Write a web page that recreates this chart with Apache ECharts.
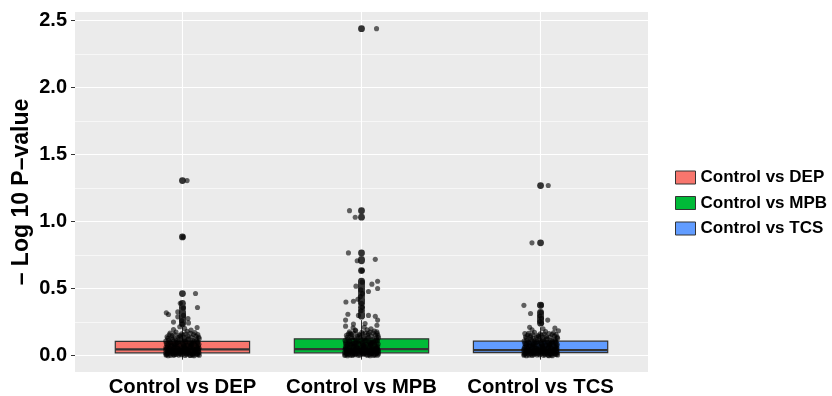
<!DOCTYPE html>
<html><head><meta charset="utf-8">
<script src="https://cdn.jsdelivr.net/npm/echarts@6/dist/echarts.min.js"></script>
<style>html,body{margin:0;padding:0;background:#fff}#c{width:832px;height:396px}</style>
</head><body><div id="c"></div>
<script>
const categories = ['Control vs DEP', 'Control vs MPB', 'Control vs TCS'];
const boxColors = ['#F8766D', '#00BA38', '#619CFF'];
const yTicks = [0, 0.5, 1, 1.5, 2, 2.5];
const yMinorTicks = [0.25, 0.75, 1.25, 1.75, 2.25];
const yAxisTitle = '\u2013 Log 10 P\u2013value';

// box statistics: [Q1, median, Q3]
const boxDEP = [0.021, 0.046, 0.106];
const boxMPB = [0.021, 0.048, 0.125];
const boxTCS = [0.022, 0.041, 0.108];

// jittered points: [horizontal jitter (category units), -log10 p]
const pointsDEP = [
 [0.026,1.305],[0.003,0.885],[0.073,0.463],[-0.012,0.39],[0.084,0.359],[0.004,0.355],[-0.026,0.326],[-0.09,0.319],
 [-0.078,0.307],[0.006,0.3],[-0.026,0.289],[0.031,0.277],[-0.004,0.262],[0.034,0.244],[-0.05,0.25],[0.0,0.238],
 [-0.092,0.004],[-0.071,0.012],[-0.048,0.002],[-0.027,0.018],[-0.006,0.007],[0.015,0.001],[0.036,0.014],[0.058,0.005],[0.079,0.011],[0.094,0.003],
 [-0.085,0.026],[-0.062,0.033],[-0.041,0.022],[-0.019,0.038],[0.003,0.027],[0.024,0.035],[0.046,0.024],[0.067,0.031],[0.088,0.028],
 [-0.094,0.045],[-0.074,0.052],[-0.053,0.041],[-0.031,0.058],[-0.011,0.047],[0.011,0.055],[0.032,0.044],[0.054,0.061],[0.075,0.049],[0.093,0.056],
 [-0.083,0.068],[-0.061,0.075],[-0.039,0.064],[-0.016,0.079],[0.006,0.071],[0.027,0.083],[0.049,0.069],[0.071,0.078],[0.089,0.072],
 [-0.09,0.091],[-0.067,0.098],[-0.044,0.087],[-0.022,0.104],[0.0,0.094],[0.021,0.101],[0.042,0.089],[0.064,0.107],[0.085,0.096],
 [-0.078,0.116],[-0.055,0.123],[-0.033,0.112],[-0.009,0.128],[0.013,0.119],[0.035,0.131],[0.057,0.115],[0.08,0.124],
 [-0.086,0.141],[-0.058,0.148],[-0.025,0.137],[0.004,0.153],[0.03,0.144],[0.062,0.158],[0.091,0.139],
 [-0.069,0.168],[-0.036,0.176],[-0.004,0.163],[0.026,0.181],[0.07,0.172],
 [-0.05,0.195],[0.012,0.203],[0.048,0.19],[-0.015,0.215],[0.082,0.21],
 [-0.08,0.0],[-0.035,0.009],[0.02,0.016],[0.065,0.0],[-0.058,0.019],[0.042,0.003],[-0.004,0.03],[0.075,0.04],
 [-0.07,0.037],[0.009,0.062],[-0.046,0.082],[0.052,0.085],
 [-0.089,0.008],[-0.066,0.002],[-0.043,0.011],[-0.021,0.004],[0.001,0.013],[0.023,0.008],[0.044,0.001],[0.064,0.015],[0.086,0.007],
 [-0.094,0.019],[-0.077,0.023],[-0.055,0.029],[-0.033,0.025],[-0.012,0.021],[0.01,0.031],[0.031,0.023],[0.052,0.018],[0.073,0.026],[0.093,0.021],
 [-0.081,0.039],[-0.059,0.046],[-0.037,0.036],[-0.015,0.043],[0.007,0.038],[0.029,0.048],[0.05,0.037],[0.071,0.045],[0.09,0.041],
 [-0.092,0.062],[-0.07,0.058],[-0.047,0.066],[-0.025,0.053],[-0.003,0.061],[0.019,0.067],[0.04,0.057],[0.061,0.053],[0.083,0.063],
 [-0.086,0.081],[-0.063,0.086],[-0.041,0.077],[-0.018,0.09],[0.004,0.083],[0.026,0.074],[0.047,0.079],[0.068,0.091],[0.092,0.084],
 [-0.093,0.108],[-0.071,0.103],[-0.049,0.109],[-0.027,0.097],[-0.005,0.111],[0.017,0.106],[0.038,0.099],[0.06,0.095],[0.078,0.109],
 [-0.082,0.13],[-0.06,0.135],[-0.038,0.126],[-0.014,0.142],[0.009,0.134],[0.031,0.122],[0.053,0.137],[0.076,0.145],[0.094,0.128],
 [-0.074,0.155],[-0.045,0.159],[-0.017,0.151],[0.019,0.162],[0.045,0.166],[0.086,0.158],
 [-0.084,0.014],[-0.052,0.01],[-0.016,0.016],[0.018,0.021],[0.055,0.011],[0.083,0.017],[-0.072,0.032],[-0.038,0.03],[-0.001,0.04],
 [0.035,0.029],[0.07,0.036],[-0.088,0.051],[-0.05,0.049],[-0.014,0.054],[0.022,0.05],[0.058,0.047],[0.088,0.05],[-0.066,0.07],
 [-0.029,0.067],[0.011,0.074],[0.045,0.063],[0.079,0.07],[-0.077,0.088],[-0.036,0.095],[0.008,0.102],[0.051,0.1],[0.087,0.104]
];
const pointsMPB = [
 [0.084,2.438],[-0.067,1.081],[-0.035,1.032],[-0.073,0.766],[-0.024,0.707],[0.077,0.718],[0.003,0.634],[0.09,0.555],
 [0.004,0.548],[0.058,0.533],[-0.031,0.518],[0.09,0.5],[-0.004,0.49],[0.039,0.478],[0.006,0.462],[-0.006,0.44],
 [-0.02,0.42],[-0.045,0.406],[-0.087,0.4],[0.0,0.39],[0.004,0.36],[-0.003,0.335],[-0.076,0.309],[-0.017,0.3],
 [0.039,0.3],[0.077,0.294],[0.09,0.265],[-0.089,0.265],[-0.089,0.22],[0.086,0.227],[-0.045,0.235],[0.02,0.24],
 [0.086,0.177],[-0.035,0.19],[0.039,0.165],[-0.063,0.165],
 [-0.094,0.002],[-0.073,0.009],[-0.051,0.001],[-0.03,0.014],[-0.008,0.005],[0.013,0.011],[0.035,0.003],[0.056,0.016],[0.077,0.006],[0.095,0.012],
 [-0.087,0.024],[-0.065,0.031],[-0.043,0.027],[-0.021,0.036],[0.001,0.022],[0.022,0.039],[0.044,0.029],[0.066,0.034],[0.087,0.021],
 [-0.092,0.047],[-0.071,0.055],[-0.049,0.043],[-0.028,0.061],[-0.006,0.05],[0.016,0.058],[0.037,0.046],[0.059,0.064],[0.081,0.052],[0.094,0.041],
 [-0.081,0.072],[-0.059,0.08],[-0.037,0.069],[-0.014,0.084],[0.008,0.076],[0.029,0.088],[0.051,0.073],[0.073,0.082],[0.09,0.069],
 [-0.089,0.097],[-0.066,0.105],[-0.042,0.093],[-0.019,0.109],[0.003,0.099],[0.025,0.112],[0.046,0.095],[0.068,0.104],[0.088,0.114],
 [-0.076,0.124],[-0.053,0.131],[-0.03,0.119],[-0.007,0.136],[0.016,0.127],[0.039,0.139],[0.061,0.122],[0.083,0.133],
 [-0.084,0.151],[-0.056,0.158],[-0.022,0.146],[0.007,0.163],[0.034,0.154],[0.065,0.168],[0.092,0.149],
 [-0.067,0.178],[-0.032,0.186],[0.002,0.174],[0.031,0.193],[0.072,0.183],
 [-0.047,0.207],[0.015,0.212],[0.053,0.2],
 [-0.078,0.0],[-0.033,0.007],[0.025,0.019],[0.068,0.001],[-0.055,0.018],[0.045,0.008],[-0.002,0.033],[0.072,0.044],
 [-0.068,0.04],[0.011,0.066],[-0.048,0.088],[0.055,0.09],
 [-0.09,0.006],[-0.062,0.004],[-0.04,0.012],[-0.017,0.002],[0.006,0.014],[0.027,0.006],[0.048,0.0],[0.07,0.011],[0.089,0.003],
 [-0.095,0.021],[-0.079,0.017],[-0.058,0.028],[-0.035,0.02],[-0.013,0.027],[0.011,0.018],[0.033,0.025],[0.054,0.021],[0.075,0.029],[0.094,0.026],
 [-0.084,0.041],[-0.062,0.037],[-0.039,0.045],[-0.018,0.039],[0.005,0.043],[0.027,0.035],[0.049,0.04],[0.07,0.048],[0.09,0.036],
 [-0.09,0.064],[-0.068,0.06],[-0.045,0.067],[-0.023,0.057],[-0.001,0.063],[0.021,0.069],[0.042,0.058],[0.064,0.055],[0.085,0.061],
 [-0.087,0.084],[-0.064,0.089],[-0.04,0.08],[-0.017,0.093],[0.005,0.086],[0.028,0.078],[0.05,0.083],[0.071,0.094],[0.093,0.087],
 [-0.092,0.112],[-0.07,0.107],[-0.047,0.115],[-0.025,0.101],[-0.003,0.117],[0.019,0.11],[0.041,0.103],[0.062,0.099],[0.08,0.113],
 [-0.08,0.137],[-0.058,0.142],[-0.036,0.133],[-0.012,0.149],[0.011,0.141],[0.033,0.128],[0.055,0.144],[0.078,0.152],[0.095,0.135],
 [-0.073,0.162],[-0.043,0.167],[-0.015,0.158],[0.021,0.171],[0.047,0.176],[0.088,0.165],
 [-0.083,0.013],[-0.05,0.009],[-0.015,0.017],[0.019,0.02],[0.056,0.012],[0.084,0.016],[-0.071,0.033],[-0.037,0.031],[0.0,0.041],
 [0.036,0.03],[0.071,0.037],[-0.087,0.052],[-0.049,0.05],[-0.013,0.055],[0.023,0.051],[0.059,0.048],[0.089,0.051],[-0.065,0.071],
 [-0.028,0.068],[0.012,0.075],[0.046,0.064],[0.08,0.071],[-0.076,0.09],[-0.035,0.096],[0.009,0.103],[0.052,0.101],[0.088,0.106]
];
const pointsTCS = [
 [0.043,1.268],[-0.048,0.841],[-0.093,0.375],[0.003,0.377],[-0.056,0.314],[0.002,0.322],[-0.004,0.295],[0.005,0.278],
 [0.04,0.265],[-0.003,0.255],[0.006,0.242],[-0.061,0.212],[0.08,0.205],[0.1,0.185],[-0.088,0.165],
 [-0.093,0.003],[-0.069,0.013],[-0.046,0.001],[-0.025,0.017],[-0.004,0.006],[0.017,0.002],[0.038,0.013],[0.06,0.004],[0.081,0.01],[0.095,0.005],
 [-0.083,0.027],[-0.06,0.034],[-0.039,0.023],[-0.017,0.037],[0.005,0.026],[0.026,0.034],[0.048,0.025],[0.069,0.03],[0.089,0.029],
 [-0.095,0.044],[-0.072,0.053],[-0.051,0.042],[-0.029,0.057],[-0.009,0.046],[0.013,0.054],[0.034,0.043],[0.056,0.06],[0.077,0.048],[0.092,0.057],
 [-0.081,0.067],[-0.059,0.074],[-0.037,0.063],[-0.014,0.078],[0.008,0.07],[0.029,0.082],[0.051,0.068],[0.073,0.077],[0.091,0.073],
 [-0.088,0.09],[-0.065,0.097],[-0.042,0.086],[-0.02,0.103],[0.002,0.093],[0.023,0.1],[0.044,0.088],[0.066,0.106],[0.087,0.095],
 [-0.076,0.115],[-0.053,0.122],[-0.031,0.111],[-0.007,0.127],[0.015,0.118],[0.037,0.13],[0.059,0.114],[0.082,0.123],
 [-0.084,0.14],[-0.056,0.147],[-0.023,0.136],[0.006,0.152],[0.032,0.143],[0.064,0.157],[0.093,0.138],
 [-0.067,0.167],[-0.034,0.174],[-0.002,0.162],[0.028,0.179],[0.072,0.171],
 [-0.048,0.193],[0.014,0.2],
 [-0.079,0.0],[-0.036,0.01],[0.021,0.015],[0.066,0.0],[-0.057,0.02],[0.043,0.002],[-0.003,0.031],[0.076,0.039],
 [-0.071,0.036],[0.01,0.061],[-0.045,0.081],[0.053,0.084],
 [-0.091,0.009],[-0.064,0.003],[-0.041,0.012],[-0.019,0.005],[0.003,0.014],[0.025,0.007],[0.046,0.0],[0.066,0.016],[0.088,0.008],
 [-0.093,0.02],[-0.075,0.024],[-0.053,0.03],[-0.031,0.026],[-0.01,0.022],[0.012,0.032],[0.033,0.024],[0.054,0.019],[0.075,0.027],[0.094,0.022],
 [-0.079,0.04],[-0.057,0.047],[-0.035,0.037],[-0.013,0.044],[0.009,0.039],[0.031,0.049],[0.052,0.038],[0.073,0.046],[0.091,0.042],
 [-0.09,0.063],[-0.068,0.059],[-0.045,0.067],[-0.023,0.054],[-0.001,0.062],[0.021,0.068],[0.042,0.058],[0.063,0.054],[0.085,0.064],
 [-0.084,0.082],[-0.061,0.087],[-0.039,0.078],[-0.016,0.091],[0.006,0.084],[0.028,0.075],[0.049,0.08],[0.07,0.092],[0.093,0.085],
 [-0.092,0.109],[-0.069,0.104],[-0.047,0.11],[-0.025,0.098],[-0.003,0.112],[0.019,0.107],[0.04,0.1],[0.062,0.096],[0.08,0.11],
 [-0.08,0.131],[-0.058,0.136],[-0.036,0.127],[-0.012,0.143],[0.011,0.135],[0.033,0.123],[0.055,0.138],[0.078,0.146],[0.095,0.129],
 [-0.072,0.154],[-0.043,0.158],[-0.015,0.15],[0.021,0.161],[0.047,0.165],[0.087,0.157],
 [-0.085,0.015],[-0.053,0.011],[-0.017,0.015],[0.017,0.022],[0.054,0.01],[0.082,0.018],[-0.073,0.031],[-0.039,0.029],[-0.002,0.039],
 [0.034,0.028],[0.069,0.035],[-0.089,0.05],[-0.051,0.048],[-0.015,0.053],[0.021,0.049],[0.057,0.046],[0.087,0.049],[-0.067,0.069],
 [-0.03,0.066],[0.01,0.073],[0.044,0.062],[0.078,0.069],[-0.078,0.087],[-0.037,0.094],[0.007,0.101],[0.05,0.099],[0.086,0.103]
];

const boxStats = [boxDEP, boxMPB, boxTCS];
const groupPoints = [pointsDEP, pointsMPB, pointsTCS];
const FONT = '"Liberation Sans", Arial, Helvetica, sans-serif';

function makeBoxSeries(i) {
  const st = boxStats[i];
  const iqr = st[2] - st[0];
  const hiLim = st[2] + 1.5 * iqr, loLim = st[0] - 1.5 * iqr;
  const vals = groupPoints[i].map(p => p[1]);
  const inside = vals.filter(v => v <= hiLim && v >= loLim);
  const wHi = Math.max(...inside), wLo = Math.min(...inside);
  return {
    type: 'custom', name: categories[i], z: 2,
    itemStyle: { color: boxColors[i], borderColor: '#333', borderWidth: 1 },
    data: [[i + 1, wLo, st[0], st[1], st[2], wHi]],
    renderItem: function (params, api) {
      const x = api.value(0), hw = 0.375;
      const lt = api.coord([x - hw, api.value(4)]);
      const rb = api.coord([x + hw, api.value(2)]);
      const mL = api.coord([x - hw, api.value(3)]);
      const mR = api.coord([x + hw, api.value(3)]);
      const hi = api.coord([x, api.value(5)]);
      const q3 = api.coord([x, api.value(4)]);
      const lo = api.coord([x, api.value(1)]);
      const q1 = api.coord([x, api.value(2)]);
      return { type: 'group', children: [
        { type: 'line', shape: { x1: hi[0], y1: hi[1], x2: q3[0], y2: q3[1] }, style: { stroke: '#333', lineWidth: 1 } },
        { type: 'line', shape: { x1: lo[0], y1: lo[1], x2: q1[0], y2: q1[1] }, style: { stroke: '#333', lineWidth: 1 } },
        { type: 'rect', shape: { x: lt[0], y: lt[1], width: rb[0] - lt[0], height: rb[1] - lt[1] }, style: { fill: boxColors[i], stroke: '#333', lineWidth: 1.2 } },
        { type: 'line', shape: { x1: mL[0], y1: mL[1], x2: mR[0], y2: mR[1] }, style: { stroke: '#333', lineWidth: 2.3 } }
      ]};
    }
  };
}

const outlierData = [], jitterData = [];
groupPoints.forEach((pts, i) => {
  const st = boxStats[i];
  const iqr = st[2] - st[0];
  const hiLim = st[2] + 1.5 * iqr, loLim = st[0] - 1.5 * iqr;
  pts.forEach(p => {
    jitterData.push([i + 1 + p[0], p[1]]);
    if (p[1] > hiLim || p[1] < loLim) outlierData.push([i + 1, p[1]]);
  });
});

const series = [0, 1, 2].map(makeBoxSeries);
series.push({ type: 'scatter', name: 'outliers', z: 3, symbolSize: 6.8, itemStyle: { color: '#333333', opacity: 1 }, data: outlierData, silent: true });
series.push({ type: 'scatter', name: 'points', z: 4, symbolSize: 5.1, itemStyle: { color: 'rgba(0,0,0,0.75)' }, data: jitterData, silent: true });

const chart = echarts.init(document.getElementById('c'), null, { renderer: 'canvas' });
chart.setOption({
  animation: false,
  backgroundColor: '#ffffff',
  textStyle: { fontFamily: FONT },
  grid: { left: 75, right: 184, top: 12, bottom: 24, show: true, backgroundColor: '#EBEBEB', borderWidth: 0, containLabel: false, outerBoundsMode: 'none' },
  legend: {
    orient: 'vertical', left: 670, top: 164, itemWidth: 20, itemHeight: 13, itemGap: 8.5,
    icon: 'rect', data: categories,
    itemStyle: { borderColor: '#333', borderWidth: 1 },
    textStyle: { fontFamily: FONT, fontWeight: 'bold', fontSize: 17, color: '#000' }
  },
  xAxis: {
    type: 'value', min: 0.4, max: 3.6,
    axisLine: { show: false },
    axisTick: { show: true, length: 4, lineStyle: { color: '#333' }, customValues: [1, 2, 3] },
    axisLabel: { customValues: [1, 2, 3], formatter: v => categories[Math.round(v) - 1], fontFamily: FONT, fontWeight: 'bold', fontSize: 20.3, color: '#000', margin: 5 },
    splitLine: { show: true, lineStyle: { color: '#ffffff', width: 1.1 } }
  },
  yAxis: [{
    type: 'value', min: -0.122, max: 2.562,
    name: yAxisTitle, nameLocation: 'middle', nameGap: 42, nameMoveOverlap: false,
    nameTextStyle: { fontFamily: FONT, fontWeight: 'bold', fontSize: 23, color: '#000' },
    axisLine: { show: false },
    axisTick: { show: true, length: 4, lineStyle: { color: '#333' }, customValues: yTicks },
    axisLabel: { customValues: yTicks, formatter: v => v.toFixed(1), fontFamily: FONT, fontWeight: 'bold', fontSize: 20, color: '#000', margin: 8 },
    splitLine: { show: true, lineStyle: { color: '#ffffff', width: 1.1 } }
  }, {
    type: 'value', min: -0.122, max: 2.562, position: 'left',
    axisLine: { show: false },
    axisTick: { show: false, customValues: yMinorTicks },
    axisLabel: { show: false, customValues: yMinorTicks },
    splitLine: { show: true, lineStyle: { color: '#ffffff', width: 0.6 } }
  }],
  series: series
});
</script></body></html>
